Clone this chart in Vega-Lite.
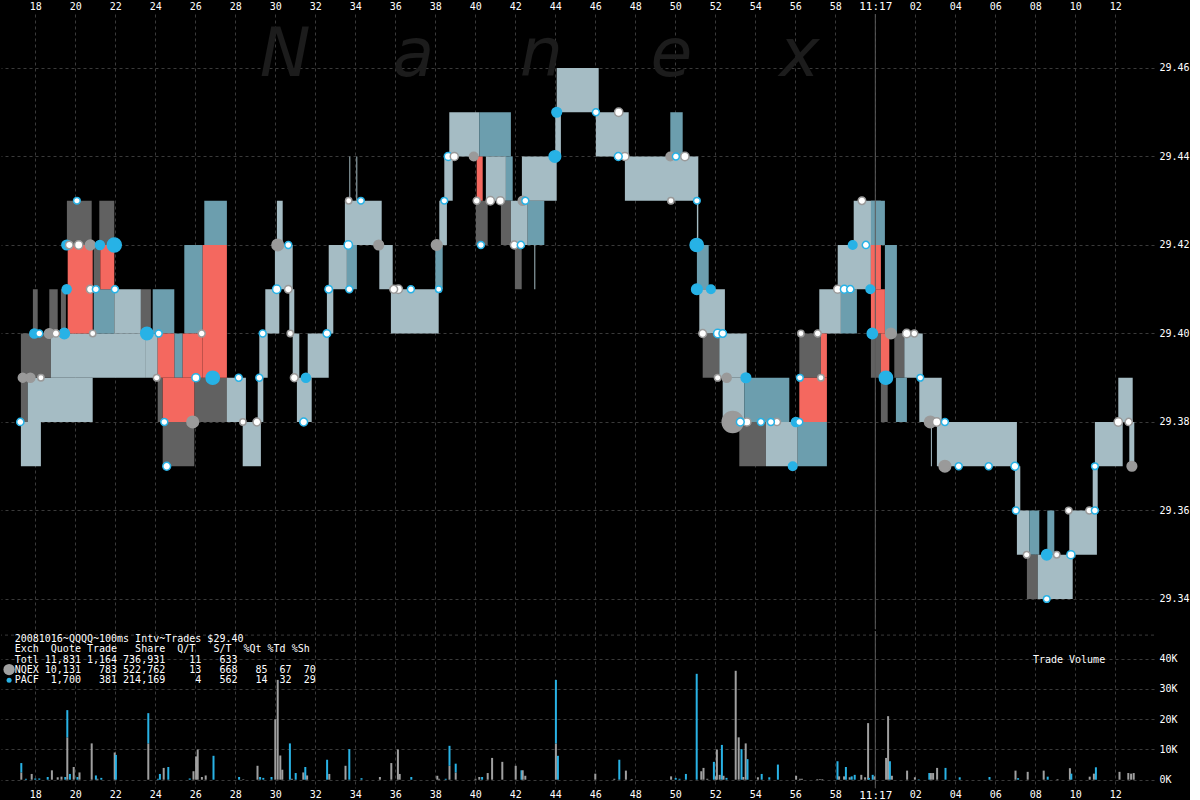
{
 "$schema": "https://vega.github.io/schema/vega-lite/v6.json",
 "background": "#000000",
 "padding": 0,
 "spacing": 0,
 "resolve": {"scale": {"color": "independent", "fill": "independent", "stroke": "independent", "size": "independent"}},
 "config": {
  "view": {"stroke": null},
  "axis": {"labelColor": "#ffffff", "labelFont": "DejaVu Sans Mono", "labelFontSize": 10, "gridColor": "#3a3a3a", "gridDash": [3, 3], "gridWidth": 1, "ticks": false, "domain": false, "labelOverlap": false, "labelFlush": false}
 },
 "datasets": {
  "words": [
   {"ch": "N", "t": 30.5, "p": 29.4582},
   {"ch": "a", "t": 36.9, "p": 29.4582},
   {"ch": "n", "t": 43.3, "p": 29.4582},
   {"ch": "e", "t": 49.8, "p": 29.4582},
   {"ch": "x", "t": 56.2, "p": 29.4582}
  ],
  "quotes": [
   {"t0": 17.28, "t1": 18.28, "lo": 29.37, "hi": 29.38, "k": "dense"},
   {"t0": 17.28, "t1": 17.62, "lo": 29.38, "hi": 29.40, "k": "gray"},
   {"t0": 17.62, "t1": 20.87, "lo": 29.38, "hi": 29.39, "k": "dense"},
   {"t0": 17.38, "t1": 18.78, "lo": 29.39, "hi": 29.40, "k": "gray"},
   {"t0": 18.78, "t1": 23.53, "lo": 29.39, "hi": 29.40, "k": "dense"},
   {"t0": 17.88, "t1": 18.12, "lo": 29.40, "hi": 29.41, "k": "gray"},
   {"t0": 18.70, "t1": 19.12, "lo": 29.40, "hi": 29.41, "k": "gray"},
   {"t0": 19.28, "t1": 19.53, "lo": 29.40, "hi": 29.41, "k": "gray"},
   {"t0": 19.58, "t1": 20.82, "lo": 29.42, "hi": 29.43, "k": "gray"},
   {"t0": 20.92, "t1": 21.25, "lo": 29.41, "hi": 29.42, "k": "gray"},
   {"t0": 21.20, "t1": 21.95, "lo": 29.42, "hi": 29.43, "k": "gray"},
   {"t0": 20.92, "t1": 21.95, "lo": 29.40, "hi": 29.41, "k": "blue"},
   {"t0": 21.95, "t1": 23.28, "lo": 29.40, "hi": 29.41, "k": "dense"},
   {"t0": 23.28, "t1": 23.78, "lo": 29.40, "hi": 29.41, "k": "gray"},
   {"t0": 23.87, "t1": 24.95, "lo": 29.40, "hi": 29.41, "k": "blue"},
   {"t0": 23.53, "t1": 24.12, "lo": 29.39, "hi": 29.40, "k": "dense"},
   {"t0": 24.12, "t1": 24.37, "lo": 29.38, "hi": 29.39, "k": "gray"},
   {"t0": 24.37, "t1": 25.95, "lo": 29.37, "hi": 29.38, "k": "gray"},
   {"t0": 24.95, "t1": 25.37, "lo": 29.39, "hi": 29.40, "k": "blue"},
   {"t0": 25.45, "t1": 26.37, "lo": 29.40, "hi": 29.42, "k": "blue"},
   {"t0": 26.45, "t1": 27.58, "lo": 29.42, "hi": 29.43, "k": "blue"},
   {"t0": 25.95, "t1": 27.62, "lo": 29.38, "hi": 29.39, "k": "gray"},
   {"t0": 27.58, "t1": 28.53, "lo": 29.38, "hi": 29.39, "k": "dense"},
   {"t0": 28.37, "t1": 29.28, "lo": 29.37, "hi": 29.38, "k": "dense"},
   {"t0": 29.12, "t1": 29.40, "lo": 29.38, "hi": 29.39, "k": "dense"},
   {"t0": 29.20, "t1": 29.62, "lo": 29.39, "hi": 29.40, "k": "dense"},
   {"t0": 29.50, "t1": 30.20, "lo": 29.40, "hi": 29.41, "k": "dense"},
   {"t0": 29.98, "t1": 30.87, "lo": 29.41, "hi": 29.42, "k": "dense"},
   {"t0": 30.08, "t1": 30.37, "lo": 29.42, "hi": 29.43, "k": "dense"},
   {"t0": 30.70, "t1": 30.95, "lo": 29.40, "hi": 29.41, "k": "dense"},
   {"t0": 30.87, "t1": 31.20, "lo": 29.39, "hi": 29.40, "k": "dense"},
   {"t0": 31.08, "t1": 31.82, "lo": 29.38, "hi": 29.39, "k": "dense"},
   {"t0": 31.62, "t1": 32.67, "lo": 29.39, "hi": 29.40, "k": "dense"},
   {"t0": 32.58, "t1": 32.90, "lo": 29.40, "hi": 29.41, "k": "dense"},
   {"t0": 32.67, "t1": 33.58, "lo": 29.41, "hi": 29.42, "k": "dense"},
   {"t0": 33.58, "t1": 34.08, "lo": 29.41, "hi": 29.42, "k": "blue"},
   {"t0": 33.48, "t1": 35.32, "lo": 29.42, "hi": 29.43, "k": "dense"},
   {"t0": 33.70, "t1": 33.75, "lo": 29.43, "hi": 29.44, "k": "dense"},
   {"t0": 34.05, "t1": 34.10, "lo": 29.43, "hi": 29.44, "k": "dense"},
   {"t0": 35.20, "t1": 35.87, "lo": 29.41, "hi": 29.42, "k": "dense"},
   {"t0": 35.78, "t1": 38.17, "lo": 29.40, "hi": 29.41, "k": "dense"},
   {"t0": 38.00, "t1": 38.37, "lo": 29.41, "hi": 29.42, "k": "blue"},
   {"t0": 38.20, "t1": 38.58, "lo": 29.42, "hi": 29.43, "k": "dense"},
   {"t0": 38.45, "t1": 38.87, "lo": 29.43, "hi": 29.44, "k": "dense"},
   {"t0": 38.70, "t1": 40.20, "lo": 29.44, "hi": 29.45, "k": "dense"},
   {"t0": 40.20, "t1": 41.78, "lo": 29.44, "hi": 29.45, "k": "blue"},
   {"t0": 40.03, "t1": 40.62, "lo": 29.42, "hi": 29.43, "k": "gray"},
   {"t0": 40.53, "t1": 41.53, "lo": 29.43, "hi": 29.44, "k": "dense"},
   {"t0": 41.53, "t1": 41.87, "lo": 29.43, "hi": 29.44, "k": "blue"},
   {"t0": 41.28, "t1": 41.78, "lo": 29.42, "hi": 29.43, "k": "gray"},
   {"t0": 41.78, "t1": 42.62, "lo": 29.42, "hi": 29.43, "k": "dense"},
   {"t0": 42.62, "t1": 43.45, "lo": 29.42, "hi": 29.43, "k": "blue"},
   {"t0": 41.98, "t1": 42.32, "lo": 29.41, "hi": 29.42, "k": "gray"},
   {"t0": 42.95, "t1": 43.00, "lo": 29.41, "hi": 29.42, "k": "dense"},
   {"t0": 42.33, "t1": 44.07, "lo": 29.43, "hi": 29.44, "k": "dense"},
   {"t0": 44.00, "t1": 44.28, "lo": 29.44, "hi": 29.45, "k": "dense"},
   {"t0": 44.07, "t1": 46.17, "lo": 29.45, "hi": 29.46, "k": "dense"},
   {"t0": 46.03, "t1": 47.67, "lo": 29.44, "hi": 29.45, "k": "dense"},
   {"t0": 47.48, "t1": 51.15, "lo": 29.43, "hi": 29.44, "k": "dense"},
   {"t0": 49.75, "t1": 50.37, "lo": 29.44, "hi": 29.45, "k": "blue"},
   {"t0": 51.08, "t1": 51.15, "lo": 29.42, "hi": 29.43, "k": "dense"},
   {"t0": 51.08, "t1": 51.67, "lo": 29.41, "hi": 29.42, "k": "blue"},
   {"t0": 51.20, "t1": 52.48, "lo": 29.40, "hi": 29.41, "k": "dense"},
   {"t0": 51.37, "t1": 52.20, "lo": 29.39, "hi": 29.40, "k": "gray"},
   {"t0": 52.20, "t1": 53.57, "lo": 29.39, "hi": 29.40, "k": "dense"},
   {"t0": 52.37, "t1": 53.45, "lo": 29.38, "hi": 29.39, "k": "dense"},
   {"t0": 53.45, "t1": 55.70, "lo": 29.38, "hi": 29.39, "k": "blue"},
   {"t0": 53.20, "t1": 54.53, "lo": 29.37, "hi": 29.38, "k": "gray"},
   {"t0": 54.53, "t1": 56.12, "lo": 29.37, "hi": 29.38, "k": "dense"},
   {"t0": 56.12, "t1": 57.58, "lo": 29.37, "hi": 29.38, "k": "blue"},
   {"t0": 56.20, "t1": 57.28, "lo": 29.39, "hi": 29.40, "k": "gray"},
   {"t0": 57.20, "t1": 58.28, "lo": 29.40, "hi": 29.41, "k": "dense"},
   {"t0": 58.28, "t1": 59.08, "lo": 29.40, "hi": 29.41, "k": "blue"},
   {"t0": 58.12, "t1": 59.78, "lo": 29.41, "hi": 29.42, "k": "dense"},
   {"t0": 58.92, "t1": 60.28, "lo": 29.42, "hi": 29.43, "k": "dense"},
   {"t0": 59.78, "t1": 60.48, "lo": 29.42, "hi": 29.43, "k": "blue"},
   {"t0": 59.78, "t1": 60.28, "lo": 29.39, "hi": 29.40, "k": "gray"},
   {"t0": 60.28, "t1": 60.62, "lo": 29.38, "hi": 29.39, "k": "gray"},
   {"t0": 60.48, "t1": 61.08, "lo": 29.40, "hi": 29.42, "k": "blue"},
   {"t0": 60.95, "t1": 61.45, "lo": 29.39, "hi": 29.40, "k": "gray"},
   {"t0": 61.45, "t1": 62.37, "lo": 29.39, "hi": 29.40, "k": "dense"},
   {"t0": 61.03, "t1": 61.58, "lo": 29.38, "hi": 29.39, "k": "blue"},
   {"t0": 62.20, "t1": 63.32, "lo": 29.38, "hi": 29.39, "k": "dense"},
   {"t0": 62.78, "t1": 62.83, "lo": 29.37, "hi": 29.38, "k": "dense"},
   {"t0": 63.08, "t1": 67.08, "lo": 29.37, "hi": 29.38, "k": "dense"},
   {"t0": 66.98, "t1": 67.25, "lo": 29.36, "hi": 29.37, "k": "dense"},
   {"t0": 67.08, "t1": 67.70, "lo": 29.35, "hi": 29.36, "k": "dense"},
   {"t0": 67.70, "t1": 68.20, "lo": 29.35, "hi": 29.36, "k": "blue"},
   {"t0": 68.60, "t1": 68.95, "lo": 29.35, "hi": 29.36, "k": "blue"},
   {"t0": 67.58, "t1": 68.12, "lo": 29.34, "hi": 29.35, "k": "gray"},
   {"t0": 68.12, "t1": 69.87, "lo": 29.34, "hi": 29.35, "k": "dense"},
   {"t0": 69.70, "t1": 71.08, "lo": 29.35, "hi": 29.36, "k": "dense"},
   {"t0": 70.87, "t1": 71.12, "lo": 29.36, "hi": 29.37, "k": "dense"},
   {"t0": 70.98, "t1": 72.37, "lo": 29.37, "hi": 29.38, "k": "dense"},
   {"t0": 72.15, "t1": 72.87, "lo": 29.38, "hi": 29.39, "k": "dense"},
   {"t0": 72.70, "t1": 72.95, "lo": 29.37, "hi": 29.38, "k": "dense"},
   {"t0": 19.62, "t1": 20.87, "lo": 29.40, "hi": 29.42, "k": "crossed"},
   {"t0": 21.25, "t1": 21.95, "lo": 29.41, "hi": 29.42, "k": "crossed"},
   {"t0": 24.12, "t1": 24.95, "lo": 29.39, "hi": 29.40, "k": "crossed"},
   {"t0": 24.37, "t1": 25.95, "lo": 29.38, "hi": 29.39, "k": "crossed"},
   {"t0": 25.37, "t1": 26.37, "lo": 29.39, "hi": 29.40, "k": "crossed"},
   {"t0": 26.37, "t1": 27.58, "lo": 29.39, "hi": 29.42, "k": "crossed"},
   {"t0": 40.07, "t1": 40.37, "lo": 29.43, "hi": 29.44, "k": "crossed"},
   {"t0": 56.20, "t1": 57.58, "lo": 29.38, "hi": 29.39, "k": "crossed"},
   {"t0": 57.28, "t1": 57.58, "lo": 29.39, "hi": 29.40, "k": "crossed"},
   {"t0": 59.78, "t1": 60.28, "lo": 29.41, "hi": 29.42, "k": "crossed"},
   {"t0": 59.78, "t1": 60.48, "lo": 29.40, "hi": 29.41, "k": "crossed"},
   {"t0": 60.28, "t1": 60.70, "lo": 29.39, "hi": 29.40, "k": "crossed"}
  ],
  "trades": [
   {"t": 17.25, "p": 29.38, "ex": "PACF", "sh": 500},
   {"t": 17.37, "p": 29.39, "ex": "NQEX", "sh": 1100},
   {"t": 17.75, "p": 29.39, "ex": "NQEX", "sh": 1300},
   {"t": 18.28, "p": 29.39, "ex": "NQEX", "sh": 200},
   {"t": 17.95, "p": 29.40, "ex": "PACF", "sh": 1200},
   {"t": 18.20, "p": 29.40, "ex": "PACF", "sh": 400},
   {"t": 18.70, "p": 29.40, "ex": "NQEX", "sh": 1500},
   {"t": 19.03, "p": 29.40, "ex": "NQEX", "sh": 500},
   {"t": 19.45, "p": 29.40, "ex": "PACF", "sh": 1800},
   {"t": 19.57, "p": 29.42, "ex": "PACF", "sh": 1500},
   {"t": 19.70, "p": 29.42, "ex": "NQEX", "sh": 600},
   {"t": 20.17, "p": 29.42, "ex": "NQEX", "sh": 900},
   {"t": 20.75, "p": 29.42, "ex": "NQEX", "sh": 1600},
   {"t": 21.23, "p": 29.42, "ex": "PACF", "sh": 1200},
   {"t": 21.95, "p": 29.42, "ex": "PACF", "sh": 4000},
   {"t": 20.08, "p": 29.43, "ex": "PACF", "sh": 300},
   {"t": 19.57, "p": 29.41, "ex": "PACF", "sh": 1200},
   {"t": 20.75, "p": 29.41, "ex": "NQEX", "sh": 700},
   {"t": 21.03, "p": 29.41, "ex": "PACF", "sh": 400},
   {"t": 21.98, "p": 29.41, "ex": "PACF", "sh": 400},
   {"t": 20.87, "p": 29.40, "ex": "NQEX", "sh": 200},
   {"t": 23.58, "p": 29.40, "ex": "PACF", "sh": 3000},
   {"t": 24.17, "p": 29.40, "ex": "PACF", "sh": 400},
   {"t": 24.07, "p": 29.39, "ex": "NQEX", "sh": 300},
   {"t": 24.45, "p": 29.38, "ex": "PACF", "sh": 400},
   {"t": 25.87, "p": 29.38, "ex": "NQEX", "sh": 2500},
   {"t": 24.57, "p": 29.37, "ex": "PACF", "sh": 700},
   {"t": 26.03, "p": 29.39, "ex": "PACF", "sh": 800},
   {"t": 26.87, "p": 29.39, "ex": "PACF", "sh": 3500},
   {"t": 28.17, "p": 29.39, "ex": "PACF", "sh": 400},
   {"t": 26.32, "p": 29.40, "ex": "NQEX", "sh": 400},
   {"t": 28.38, "p": 29.38, "ex": "NQEX", "sh": 200},
   {"t": 29.08, "p": 29.38, "ex": "NQEX", "sh": 700},
   {"t": 29.20, "p": 29.39, "ex": "PACF", "sh": 400},
   {"t": 29.37, "p": 29.40, "ex": "PACF", "sh": 400},
   {"t": 30.12, "p": 29.42, "ex": "NQEX", "sh": 2500},
   {"t": 30.65, "p": 29.42, "ex": "PACF", "sh": 400},
   {"t": 30.07, "p": 29.41, "ex": "PACF", "sh": 900},
   {"t": 30.65, "p": 29.41, "ex": "NQEX", "sh": 600},
   {"t": 30.75, "p": 29.40, "ex": "NQEX", "sh": 200},
   {"t": 30.95, "p": 29.39, "ex": "NQEX", "sh": 700},
   {"t": 31.42, "p": 29.38, "ex": "PACF", "sh": 700},
   {"t": 31.53, "p": 29.39, "ex": "PACF", "sh": 1200},
   {"t": 32.58, "p": 29.40, "ex": "PACF", "sh": 600},
   {"t": 32.67, "p": 29.41, "ex": "PACF", "sh": 600},
   {"t": 33.70, "p": 29.41, "ex": "PACF", "sh": 400},
   {"t": 33.65, "p": 29.42, "ex": "PACF", "sh": 900},
   {"t": 35.17, "p": 29.42, "ex": "NQEX", "sh": 1500},
   {"t": 33.67, "p": 29.43, "ex": "NQEX", "sh": 200},
   {"t": 34.28, "p": 29.43, "ex": "PACF", "sh": 300},
   {"t": 35.92, "p": 29.41, "ex": "NQEX", "sh": 700},
   {"t": 36.15, "p": 29.41, "ex": "NQEX", "sh": 900},
   {"t": 36.78, "p": 29.41, "ex": "PACF", "sh": 400},
   {"t": 38.17, "p": 29.41, "ex": "PACF", "sh": 200},
   {"t": 38.07, "p": 29.42, "ex": "NQEX", "sh": 2000},
   {"t": 38.45, "p": 29.43, "ex": "PACF", "sh": 300},
   {"t": 38.65, "p": 29.44, "ex": "PACF", "sh": 800},
   {"t": 38.95, "p": 29.44, "ex": "NQEX", "sh": 800},
   {"t": 39.92, "p": 29.44, "ex": "NQEX", "sh": 1000},
   {"t": 40.07, "p": 29.43, "ex": "NQEX", "sh": 400},
   {"t": 40.75, "p": 29.43, "ex": "NQEX", "sh": 900},
   {"t": 41.25, "p": 29.43, "ex": "NQEX", "sh": 800},
   {"t": 42.37, "p": 29.43, "ex": "NQEX", "sh": 1200},
   {"t": 42.50, "p": 29.43, "ex": "PACF", "sh": 400},
   {"t": 40.28, "p": 29.42, "ex": "PACF", "sh": 400},
   {"t": 41.95, "p": 29.42, "ex": "NQEX", "sh": 700},
   {"t": 42.28, "p": 29.42, "ex": "PACF", "sh": 500},
   {"t": 44.07, "p": 29.45, "ex": "PACF", "sh": 1500},
   {"t": 43.98, "p": 29.44, "ex": "PACF", "sh": 2500},
   {"t": 46.03, "p": 29.45, "ex": "PACF", "sh": 400},
   {"t": 47.17, "p": 29.45, "ex": "NQEX", "sh": 900},
   {"t": 47.15, "p": 29.44, "ex": "PACF", "sh": 700},
   {"t": 47.48, "p": 29.44, "ex": "NQEX", "sh": 800},
   {"t": 49.75, "p": 29.44, "ex": "NQEX", "sh": 1000},
   {"t": 50.03, "p": 29.44, "ex": "PACF", "sh": 400},
   {"t": 50.48, "p": 29.44, "ex": "NQEX", "sh": 900},
   {"t": 49.78, "p": 29.43, "ex": "NQEX", "sh": 200},
   {"t": 51.08, "p": 29.43, "ex": "PACF", "sh": 300},
   {"t": 51.07, "p": 29.42, "ex": "PACF", "sh": 3500},
   {"t": 51.08, "p": 29.41, "ex": "PACF", "sh": 2000},
   {"t": 51.78, "p": 29.41, "ex": "PACF", "sh": 1000},
   {"t": 51.37, "p": 29.40, "ex": "NQEX", "sh": 700},
   {"t": 52.12, "p": 29.40, "ex": "PACF", "sh": 900},
   {"t": 52.37, "p": 29.40, "ex": "PACF", "sh": 600},
   {"t": 52.12, "p": 29.39, "ex": "NQEX", "sh": 300},
   {"t": 52.57, "p": 29.39, "ex": "NQEX", "sh": 1200},
   {"t": 53.53, "p": 29.39, "ex": "PACF", "sh": 1500},
   {"t": 52.87, "p": 29.38, "ex": "NQEX", "sh": 10000},
   {"t": 53.25, "p": 29.38, "ex": "PACF", "sh": 700},
   {"t": 53.58, "p": 29.38, "ex": "NQEX", "sh": 800},
   {"t": 54.28, "p": 29.38, "ex": "PACF", "sh": 400},
   {"t": 54.78, "p": 29.38, "ex": "PACF", "sh": 400},
   {"t": 55.08, "p": 29.38, "ex": "NQEX", "sh": 500},
   {"t": 56.03, "p": 29.38, "ex": "PACF", "sh": 1200},
   {"t": 56.20, "p": 29.38, "ex": "PACF", "sh": 400},
   {"t": 55.87, "p": 29.37, "ex": "PACF", "sh": 1000},
   {"t": 56.23, "p": 29.39, "ex": "PACF", "sh": 300},
   {"t": 57.28, "p": 29.39, "ex": "NQEX", "sh": 200},
   {"t": 56.28, "p": 29.40, "ex": "NQEX", "sh": 200},
   {"t": 57.12, "p": 29.40, "ex": "NQEX", "sh": 400},
   {"t": 58.12, "p": 29.41, "ex": "NQEX", "sh": 800},
   {"t": 58.45, "p": 29.41, "ex": "PACF", "sh": 700},
   {"t": 58.75, "p": 29.41, "ex": "PACF", "sh": 500},
   {"t": 59.75, "p": 29.41, "ex": "PACF", "sh": 1000},
   {"t": 58.87, "p": 29.42, "ex": "PACF", "sh": 1000},
   {"t": 59.53, "p": 29.42, "ex": "PACF", "sh": 500},
   {"t": 59.33, "p": 29.43, "ex": "NQEX", "sh": 600},
   {"t": 59.85, "p": 29.40, "ex": "PACF", "sh": 1800},
   {"t": 60.78, "p": 29.40, "ex": "NQEX", "sh": 2000},
   {"t": 61.57, "p": 29.40, "ex": "NQEX", "sh": 900},
   {"t": 61.95, "p": 29.40, "ex": "NQEX", "sh": 400},
   {"t": 60.53, "p": 29.39, "ex": "PACF", "sh": 3500},
   {"t": 62.25, "p": 29.39, "ex": "PACF", "sh": 300},
   {"t": 62.75, "p": 29.38, "ex": "NQEX", "sh": 2500},
   {"t": 63.07, "p": 29.38, "ex": "NQEX", "sh": 900},
   {"t": 63.48, "p": 29.38, "ex": "PACF", "sh": 400},
   {"t": 63.48, "p": 29.37, "ex": "NQEX", "sh": 2500},
   {"t": 64.17, "p": 29.37, "ex": "PACF", "sh": 400},
   {"t": 65.67, "p": 29.37, "ex": "PACF", "sh": 400},
   {"t": 66.98, "p": 29.37, "ex": "PACF", "sh": 700},
   {"t": 67.03, "p": 29.36, "ex": "PACF", "sh": 400},
   {"t": 67.57, "p": 29.35, "ex": "NQEX", "sh": 300},
   {"t": 68.57, "p": 29.35, "ex": "PACF", "sh": 1800},
   {"t": 69.07, "p": 29.35, "ex": "NQEX", "sh": 200},
   {"t": 69.78, "p": 29.35, "ex": "PACF", "sh": 800},
   {"t": 68.57, "p": 29.34, "ex": "PACF", "sh": 300},
   {"t": 69.67, "p": 29.36, "ex": "NQEX", "sh": 300},
   {"t": 70.70, "p": 29.36, "ex": "NQEX", "sh": 400},
   {"t": 70.98, "p": 29.36, "ex": "PACF", "sh": 400},
   {"t": 70.98, "p": 29.37, "ex": "PACF", "sh": 300},
   {"t": 72.15, "p": 29.38, "ex": "NQEX", "sh": 900},
   {"t": 72.67, "p": 29.38, "ex": "NQEX", "sh": 500},
   {"t": 72.83, "p": 29.37, "ex": "NQEX", "sh": 1500}
  ],
  "volume": [
   {"t": 17.30, "ex": "NQEX", "v": 2400}, {"t": 17.30, "ex": "PACF", "v": 3100},
   {"t": 17.53, "ex": "PACF", "v": 300}, {"t": 17.82, "ex": "NQEX", "v": 1900},
   {"t": 18.00, "ex": "PACF", "v": 400}, {"t": 18.20, "ex": "PACF", "v": 400},
   {"t": 18.62, "ex": "PACF", "v": 900}, {"t": 18.83, "ex": "NQEX", "v": 3100},
   {"t": 19.12, "ex": "NQEX", "v": 800}, {"t": 19.31, "ex": "NQEX", "v": 1000},
   {"t": 19.50, "ex": "PACF", "v": 900}, {"t": 19.60, "ex": "NQEX", "v": 14000},
   {"t": 19.60, "ex": "PACF", "v": 9000}, {"t": 19.73, "ex": "PACF", "v": 1900},
   {"t": 19.92, "ex": "NQEX", "v": 4200}, {"t": 20.11, "ex": "PACF", "v": 900},
   {"t": 20.21, "ex": "NQEX", "v": 2400}, {"t": 20.82, "ex": "NQEX", "v": 12000},
   {"t": 21.03, "ex": "PACF", "v": 1400}, {"t": 21.11, "ex": "NQEX", "v": 300},
   {"t": 21.30, "ex": "PACF", "v": 600}, {"t": 21.97, "ex": "NQEX", "v": 9000},
   {"t": 22.03, "ex": "PACF", "v": 8200}, {"t": 23.65, "ex": "NQEX", "v": 12000},
   {"t": 23.65, "ex": "PACF", "v": 10000}, {"t": 24.13, "ex": "PACF", "v": 300},
   {"t": 24.23, "ex": "PACF", "v": 1900}, {"t": 24.42, "ex": "NQEX", "v": 3900},
   {"t": 24.65, "ex": "PACF", "v": 4200}, {"t": 25.72, "ex": "PACF", "v": 400},
   {"t": 25.91, "ex": "NQEX", "v": 2800}, {"t": 26.04, "ex": "NQEX", "v": 7700},
   {"t": 26.12, "ex": "NQEX", "v": 10000}, {"t": 26.33, "ex": "NQEX", "v": 900},
   {"t": 26.52, "ex": "NQEX", "v": 1400}, {"t": 26.91, "ex": "PACF", "v": 7900},
   {"t": 28.19, "ex": "PACF", "v": 900}, {"t": 28.40, "ex": "NQEX", "v": 150},
   {"t": 29.11, "ex": "NQEX", "v": 4600}, {"t": 29.24, "ex": "PACF", "v": 900},
   {"t": 29.40, "ex": "PACF", "v": 600}, {"t": 29.81, "ex": "PACF", "v": 900},
   {"t": 30.00, "ex": "NQEX", "v": 20000}, {"t": 30.12, "ex": "NQEX", "v": 33000},
   {"t": 30.25, "ex": "NQEX", "v": 8000}, {"t": 30.35, "ex": "NQEX", "v": 3300},
   {"t": 30.73, "ex": "PACF", "v": 12000}, {"t": 30.83, "ex": "NQEX", "v": 300},
   {"t": 31.02, "ex": "PACF", "v": 2200}, {"t": 31.40, "ex": "NQEX", "v": 2400},
   {"t": 31.50, "ex": "PACF", "v": 4200}, {"t": 31.59, "ex": "NQEX", "v": 1400},
   {"t": 32.59, "ex": "PACF", "v": 6600}, {"t": 32.70, "ex": "NQEX", "v": 1900},
   {"t": 33.51, "ex": "NQEX", "v": 4600}, {"t": 33.70, "ex": "PACF", "v": 10100},
   {"t": 34.31, "ex": "PACF", "v": 500}, {"t": 35.23, "ex": "NQEX", "v": 900},
   {"t": 35.80, "ex": "NQEX", "v": 5500}, {"t": 36.13, "ex": "NQEX", "v": 10000},
   {"t": 36.22, "ex": "NQEX", "v": 1900}, {"t": 36.80, "ex": "PACF", "v": 900},
   {"t": 38.10, "ex": "NQEX", "v": 1300}, {"t": 38.19, "ex": "NQEX", "v": 300},
   {"t": 38.52, "ex": "PACF", "v": 300}, {"t": 38.71, "ex": "NQEX", "v": 4600},
   {"t": 38.71, "ex": "PACF", "v": 6600}, {"t": 39.02, "ex": "NQEX", "v": 2400},
   {"t": 39.02, "ex": "PACF", "v": 2900}, {"t": 40.01, "ex": "NQEX", "v": 300},
   {"t": 40.20, "ex": "NQEX", "v": 900}, {"t": 40.34, "ex": "PACF", "v": 900},
   {"t": 40.62, "ex": "NQEX", "v": 2200}, {"t": 40.84, "ex": "NQEX", "v": 7200},
   {"t": 41.35, "ex": "NQEX", "v": 5900}, {"t": 42.02, "ex": "NQEX", "v": 4600},
   {"t": 42.31, "ex": "PACF", "v": 3100}, {"t": 42.37, "ex": "NQEX", "v": 3100},
   {"t": 42.50, "ex": "NQEX", "v": 1300}, {"t": 44.03, "ex": "NQEX", "v": 12000},
   {"t": 44.13, "ex": "PACF", "v": 7900}, {"t": 44.03, "ex": "PACF", "v": 21000},
   {"t": 46.00, "ex": "NQEX", "v": 2000}, {"t": 46.95, "ex": "NQEX", "v": 300},
   {"t": 47.20, "ex": "PACF", "v": 6600}, {"t": 47.53, "ex": "NQEX", "v": 3000},
   {"t": 47.82, "ex": "NQEX", "v": 200}, {"t": 49.79, "ex": "NQEX", "v": 1100},
   {"t": 50.02, "ex": "PACF", "v": 600}, {"t": 50.21, "ex": "PACF", "v": 300},
   {"t": 50.53, "ex": "PACF", "v": 1900}, {"t": 51.07, "ex": "PACF", "v": 35000},
   {"t": 51.30, "ex": "NQEX", "v": 2800}, {"t": 51.41, "ex": "NQEX", "v": 3900},
   {"t": 51.60, "ex": "NQEX", "v": 300}, {"t": 51.93, "ex": "PACF", "v": 5900},
   {"t": 52.03, "ex": "NQEX", "v": 1100}, {"t": 52.08, "ex": "NQEX", "v": 10000},
   {"t": 52.22, "ex": "NQEX", "v": 1600}, {"t": 52.33, "ex": "PACF", "v": 11500},
   {"t": 52.41, "ex": "NQEX", "v": 1300}, {"t": 52.56, "ex": "PACF", "v": 600},
   {"t": 53.02, "ex": "NQEX", "v": 36000}, {"t": 53.17, "ex": "NQEX", "v": 14000},
   {"t": 53.31, "ex": "PACF", "v": 10100}, {"t": 53.40, "ex": "NQEX", "v": 900},
   {"t": 53.52, "ex": "NQEX", "v": 12000}, {"t": 53.61, "ex": "PACF", "v": 6800},
   {"t": 54.13, "ex": "NQEX", "v": 800}, {"t": 54.32, "ex": "PACF", "v": 1900},
   {"t": 54.70, "ex": "PACF", "v": 800}, {"t": 55.13, "ex": "PACF", "v": 5000},
   {"t": 56.04, "ex": "NQEX", "v": 1300}, {"t": 56.23, "ex": "NQEX", "v": 300},
   {"t": 56.33, "ex": "NQEX", "v": 300}, {"t": 57.10, "ex": "NQEX", "v": 200},
   {"t": 57.23, "ex": "NQEX", "v": 200}, {"t": 57.35, "ex": "NQEX", "v": 200},
   {"t": 58.11, "ex": "PACF", "v": 6100}, {"t": 58.19, "ex": "NQEX", "v": 1100},
   {"t": 58.44, "ex": "NQEX", "v": 1100}, {"t": 58.53, "ex": "PACF", "v": 4200},
   {"t": 58.72, "ex": "NQEX", "v": 800}, {"t": 58.82, "ex": "PACF", "v": 1100},
   {"t": 58.97, "ex": "PACF", "v": 1600}, {"t": 59.30, "ex": "NQEX", "v": 1600},
   {"t": 59.49, "ex": "NQEX", "v": 800}, {"t": 59.64, "ex": "NQEX", "v": 18700},
   {"t": 59.68, "ex": "PACF", "v": 600}, {"t": 59.87, "ex": "PACF", "v": 1600},
   {"t": 59.97, "ex": "NQEX", "v": 1100}, {"t": 60.54, "ex": "NQEX", "v": 7200},
   {"t": 60.64, "ex": "NQEX", "v": 21000}, {"t": 60.73, "ex": "PACF", "v": 6100},
   {"t": 60.83, "ex": "NQEX", "v": 1300}, {"t": 61.59, "ex": "NQEX", "v": 3000},
   {"t": 61.98, "ex": "NQEX", "v": 800}, {"t": 62.17, "ex": "PACF", "v": 150},
   {"t": 62.70, "ex": "PACF", "v": 2200}, {"t": 62.78, "ex": "NQEX", "v": 2200},
   {"t": 62.89, "ex": "NQEX", "v": 2200}, {"t": 63.09, "ex": "NQEX", "v": 3900},
   {"t": 63.51, "ex": "PACF", "v": 3900}, {"t": 64.22, "ex": "PACF", "v": 800},
   {"t": 65.71, "ex": "PACF", "v": 900}, {"t": 67.01, "ex": "NQEX", "v": 3000},
   {"t": 67.14, "ex": "PACF", "v": 500}, {"t": 67.62, "ex": "NQEX", "v": 2600},
   {"t": 68.42, "ex": "NQEX", "v": 3000}, {"t": 68.62, "ex": "PACF", "v": 1000},
   {"t": 69.11, "ex": "NQEX", "v": 200}, {"t": 69.73, "ex": "NQEX", "v": 3800},
   {"t": 69.80, "ex": "PACF", "v": 2000}, {"t": 70.72, "ex": "NQEX", "v": 1000},
   {"t": 70.93, "ex": "NQEX", "v": 2000}, {"t": 71.03, "ex": "PACF", "v": 4100},
   {"t": 72.21, "ex": "NQEX", "v": 2600}, {"t": 72.65, "ex": "NQEX", "v": 2200},
   {"t": 72.79, "ex": "NQEX", "v": 2000}, {"t": 72.92, "ex": "NQEX", "v": 2200}
  ],
  "notes": [
   {"s": "20081016~QQQQ~100ms\u00a0Intv~Trades\u00a0$29.40", "t": 16.97, "v": 46500},
   {"s": "Exch\u00a0\u00a0Quote\u00a0Trade\u00a0\u00a0\u00a0Share\u00a0\u00a0Q/T\u00a0\u00a0\u00a0S/T\u00a0\u00a0%Qt\u00a0%Td\u00a0%Sh", "t": 16.97, "v": 43100},
   {"s": "Totl\u00a011,831\u00a01,164\u00a0736,931\u00a0\u00a0\u00a0\u00a011\u00a0\u00a0\u00a0633", "t": 16.97, "v": 39700},
   {"s": "NQEX\u00a010,131\u00a0\u00a0\u00a0783\u00a0522,762\u00a0\u00a0\u00a0\u00a013\u00a0\u00a0\u00a0668\u00a0\u00a0\u00a085\u00a0\u00a067\u00a0\u00a070", "t": 16.97, "v": 36300},
   {"s": "PACF\u00a0\u00a01,700\u00a0\u00a0\u00a0381\u00a0214,169\u00a0\u00a0\u00a0\u00a0\u00a04\u00a0\u00a0\u00a0562\u00a0\u00a0\u00a014\u00a0\u00a032\u00a0\u00a029", "t": 16.97, "v": 32900},
   {"s": "Trade\u00a0Volume", "t": 67.88, "v": 39500}
  ],
  "keys": [
   {"ex": "NQEX", "t": 16.69, "v": 36400},
   {"ex": "PACF", "t": 16.69, "v": 32900}
  ]
 },
 "vconcat": [
  {
   "width": 1153,
   "height": 615,
   "layer": [
    {
     "data": {"name": "words"},
     "mark": {"type": "text", "font": "DejaVu Sans", "fontStyle": "italic", "fontSize": 68, "color": "#1c1c1c", "align": "center", "baseline": "alphabetic"},
     "encoding": {
      "x": {"field": "t", "type": "quantitative", "title": null, "scale": {"domain": [16.285, 73.935], "nice": false, "zero": false, "padding": 0},
       "axis": {"orient": "top", "values": [18, 20, 22, 24, 26, 28, 30, 32, 34, 36, 38, 40, 42, 44, 46, 48, 50, 52, 54, 56, 58, 60, 62, 64, 66, 68, 70, 72],
        "labelExpr": "datum.value == 60 ? '11:17' : (datum.value % 60 < 10 ? '0' : '') + (datum.value % 60)",
        "labelFontSize": {"condition": {"test": "datum.value == 60", "value": 11}, "value": 10},
        "labelPadding": 3, "grid": true}},
      "y": {"field": "p", "type": "quantitative", "title": null, "scale": {"domain": [29.33322, 29.4722], "nice": false, "zero": false},
       "axis": {"orient": "right", "values": [29.34, 29.36, 29.38, 29.40, 29.42, 29.44, 29.46], "format": ".2f", "labelPadding": 5, "grid": true}},
      "text": {"field": "ch"}
     }
    },
    {
     "data": {"name": "quotes"},
     "mark": {"type": "rect"},
     "encoding": {
      "x": {"field": "t0", "type": "quantitative", "title": null},
      "x2": {"field": "t1"},
      "y": {"field": "lo", "type": "quantitative", "title": null},
      "y2": {"field": "hi"},
      "color": {"field": "k", "type": "nominal", "legend": null,
       "scale": {"domain": ["dense", "gray", "blue", "crossed"], "range": ["#a5bcc4", "#616161", "#6c9eae", "#f4685f"]}}
     }
    },
    {
     "data": {"values": [{"t": 60}]},
     "mark": {"type": "rule", "color": "#5a5a5a", "strokeWidth": 1},
     "encoding": {"x": {"field": "t", "type": "quantitative", "title": null}}
    },
    {
     "data": {"name": "trades"},
     "mark": {"type": "point", "shape": "circle", "filled": true, "strokeWidth": 1.5, "opacity": 1},
     "encoding": {
      "x": {"field": "t", "type": "quantitative", "title": null},
      "y": {"field": "p", "type": "quantitative", "title": null},
      "size": {"field": "sh", "type": "quantitative", "legend": null, "scale": {"domain": [0, 10000], "range": [32, 440]}},
      "fill": {"condition": {"test": "datum.sh < 1000", "value": "#ffffff"}, "field": "ex", "type": "nominal", "legend": null,
       "scale": {"domain": ["NQEX", "PACF"], "range": ["#9a9a9a", "#27b2e6"]}},
      "stroke": {"field": "ex", "type": "nominal", "legend": null, "scale": {"domain": ["NQEX", "PACF"], "range": ["#9a9a9a", "#27b2e6"]}},
      "order": {"field": "sh", "sort": "descending"}
     }
    }
   ]
  },
  {
   "width": 1153,
   "height": 157,
   "encoding": {
    "x": {"field": "t", "type": "quantitative", "title": null, "scale": {"domain": [16.285, 73.935], "nice": false, "zero": false, "padding": 0},
     "axis": {"orient": "bottom", "values": [18, 20, 22, 24, 26, 28, 30, 32, 34, 36, 38, 40, 42, 44, 46, 48, 50, 52, 54, 56, 58, 60, 62, 64, 66, 68, 70, 72],
      "labelExpr": "datum.value == 60 ? '11:17' : (datum.value % 60 < 10 ? '0' : '') + (datum.value % 60)",
      "labelFontSize": {"condition": {"test": "datum.value == 60", "value": 11}, "value": 10},
      "labelPadding": 1, "grid": true}},
    "y": {"field": "v", "type": "quantitative", "title": null, "scale": {"domain": [-2744, 49157], "nice": false, "zero": false},
     "axis": {"orient": "right", "values": [0, 10000, 20000, 30000, 40000], "tickCount": 5, "labelExpr": "(datum.value / 1000) + 'K'", "labelPadding": 5, "labelOverlap": false, "grid": true}}
   },
   "layer": [
    {
     "data": {"name": "volume"},
     "mark": {"type": "bar", "width": 2},
     "encoding": {
      "y": {"field": "v", "type": "quantitative", "title": null, "stack": "zero", "scale": {"domain": [-2744, 49157], "nice": false, "zero": false},
       "axis": {"orient": "right", "values": [0, 10000, 20000, 30000, 40000], "tickCount": 5, "labelExpr": "(datum.value / 1000) + 'K'", "labelPadding": 5, "labelOverlap": false, "grid": true}},
      "color": {"field": "ex", "type": "nominal", "legend": null, "scale": {"domain": ["NQEX", "PACF"], "range": ["#a0a0a0", "#29b3e6"]}},
      "order": {"field": "ex", "sort": "ascending"}
     }
    },
    {
     "data": {"values": [{"v": 47800}]},
     "mark": {"type": "rule", "color": "#3a3a3a", "strokeWidth": 1, "strokeDash": [3, 3]},
     "encoding": {"x": null}
    },
    {
     "data": {"values": [{"t": 60}]},
     "mark": {"type": "rule", "color": "#5a5a5a", "strokeWidth": 1},
     "encoding": {"y": null}
    },
    {
     "data": {"name": "notes"},
     "mark": {"type": "text", "font": "DejaVu Sans Mono", "fontSize": 10, "color": "#ffffff", "align": "left", "baseline": "middle"},
     "encoding": {"text": {"field": "s"}}
    },
    {
     "data": {"name": "keys"},
     "mark": {"type": "point", "shape": "circle", "filled": true, "opacity": 1},
     "encoding": {
      "color": {"field": "ex", "type": "nominal", "legend": null, "scale": {"domain": ["NQEX", "PACF"], "range": ["#a0a0a0", "#29b3e6"]}},
      "size": {"condition": {"test": "datum.ex == 'NQEX'", "value": 130}, "value": 25}
     }
    }
   ]
  }
 ]
}
